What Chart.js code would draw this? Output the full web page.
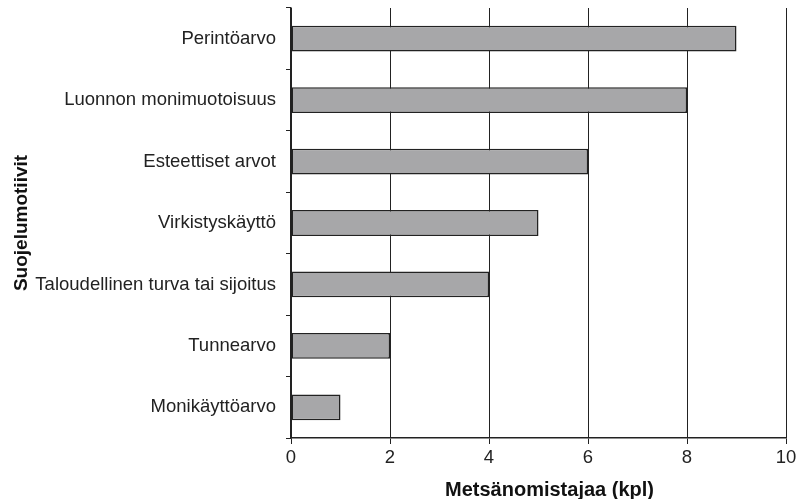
<!DOCTYPE html>
<html>
<head>
<meta charset="utf-8">
<script src="https://cdn.jsdelivr.net/npm/chart.js@4"></script>
<style>
  html, body { margin: 0; padding: 0; background: #fff; }
  #wrap { width: 798px; height: 499px; }
</style>
</head>
<body>
<div id="wrap"><canvas id="chart" width="798" height="499"></canvas></div>
<script>
// --- Data ---
const motives = [
  "Perintöarvo",
  "Luonnon monimuotoisuus",
  "Esteettiset arvot",
  "Virkistyskäyttö",
  "Taloudellinen turva tai sijoitus",
  "Tunnearvo",
  "Monikäyttöarvo"
];
const owners = [9, 8, 6, 5, 4, 2, 1];
const xTicks = [0, 2, 4, 6, 8, 10];
const xTitle = 'Metsänomistajaa (kpl)';
const yTitle = 'Suojelumotiivit';

const ink = '#222';
const font = "'Liberation Sans', Arial, sans-serif";

// x title sits a little right of the axis centre in the original
const xTitlePlugin = {
  id: 'xTitle',
  afterDraw(chart) {
    const { ctx, chartArea } = chart;
    ctx.save();
    ctx.font = `bold 20px ${font}`;
    ctx.fillStyle = '#111';
    ctx.textAlign = 'center';
    ctx.textBaseline = 'middle';
    ctx.fillText(xTitle, (chartArea.left + chartArea.right) / 2 + 11, chart.height - 9);
    ctx.restore();
  }
};

const ctx = document.getElementById('chart').getContext('2d');
new Chart(ctx, {
  type: 'bar',
  data: {
    labels: motives,
    datasets: [{
      data: owners,
      backgroundColor: '#a7a7a9',
      borderColor: ink,
      borderWidth: 1.5,
      borderSkipped: false,
      barPercentage: 0.42,
      categoryPercentage: 1
    }]
  },
  plugins: [xTitlePlugin],
  options: {
    indexAxis: 'y',
    responsive: false,
    animation: false,
    layout: { padding: { top: 8, right: 12, left: 8, bottom: 0 } },
    plugins: { legend: { display: false }, tooltip: { enabled: false } },
    scales: {
      x: {
        min: 0, max: 10,
        afterBuildTicks: s => { s.ticks = xTicks.map(v => ({ value: v })); },
        afterFit: s => { s.height = 61; s.paddingLeft = 0; s.paddingRight = 0; },
        grid: { color: ink, lineWidth: 1, tickLength: 6, tickColor: ink },
        border: { color: ink, width: 1.5 },
        ticks: { color: '#222', font: { family: font, size: 18.5 }, padding: 3 },
        title: { display: false }
      },
      y: {
        afterFit: s => { s.width = 283; s.paddingTop = 0; s.paddingBottom = 0; },
        grid: { offset: true, drawOnChartArea: false, tickLength: 5, color: ink },
        border: { color: ink, width: 1.5 },
        ticks: { color: '#222', font: { family: font, size: 18.5 }, padding: 10 },
        title: {
          display: true, text: yTitle, color: '#111',
          font: { family: font, size: 19, weight: 'bold' }, padding: { top: 2, bottom: 0 }
        }
      }
    }
  }
});
</script>
</body>
</html>
